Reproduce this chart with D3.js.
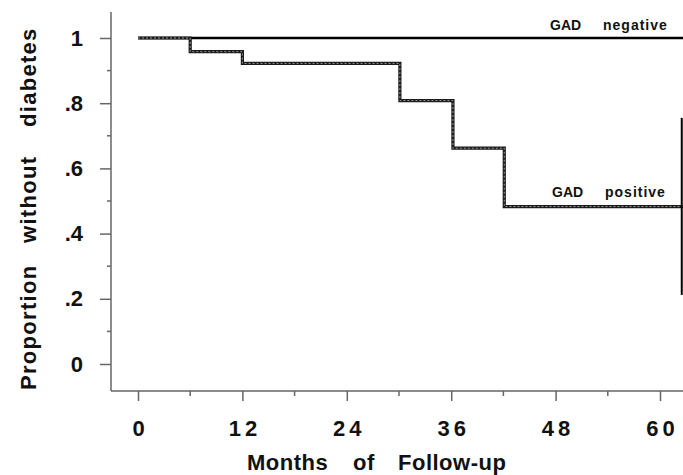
<!DOCTYPE html>
<html><head><meta charset="utf-8">
<script src="https://cdn.jsdelivr.net/npm/d3@7"></script>
<style>
body{margin:0;background:#fff;}
svg{display:block;font-family:"Liberation Sans",Arial,sans-serif;}
</style></head>
<body><svg id="c" width="683" height="475"></svg>
<script>
const xTicks = [0, 12, 24, 36, 48, 60];
const xMinor = [6, 18, 30, 42, 54];
const yTicks = [0, 0.2, 0.4, 0.6, 0.8, 1];
const yTickLabels = ["0", ".2", ".4", ".6", ".8", "1"];
const yMinor = [0.1, 0.3, 0.5, 0.7, 0.9];
const negMonths = [0, 62.9];
const negValues = [1, 1];
const posMonths = [0, 6, 12, 30.1, 36.2, 42.1, 62.9];
const posValues = [1, 0.958, 0.922, 0.808, 0.662, 0.483, 0.483];
const censorMonth = [62.5];
const censorRange = [0.212, 0.755];
const xTitleWords = ["Months", "of", "Follow-up"];
const yTitleWords = ["Proportion", "without", "diabetes"];

const svg = d3.select("#c");
const x = d3.scaleLinear().domain([0, 60]).range([138, 660]);
const y = d3.scaleLinear().domain([0, 1]).range([364, 38]);
const axisColor = "#666";
const ink = "#111";

const xAxisY = 391, yAxisX = 111;
svg.append("line").attr("x1", yAxisX).attr("x2", yAxisX).attr("y1", 12).attr("y2", xAxisY)
  .attr("stroke", axisColor).attr("stroke-width", 1.5);
svg.append("line").attr("x1", yAxisX).attr("x2", 683).attr("y1", xAxisY).attr("y2", xAxisY)
  .attr("stroke", axisColor).attr("stroke-width", 1.5);

// x axis ticks
const gx = svg.append("g").attr("transform", `translate(0,${xAxisY})`)
  .call(d3.axisBottom(x).tickValues(xTicks).tickSize(10).tickFormat(d3.format("d")));
gx.select(".domain").remove();
gx.selectAll(".tick line").attr("stroke", axisColor).attr("stroke-width", 1.5);
gx.selectAll(".tick text").attr("font-size", 22).attr("font-weight", "bold")
  .attr("fill", ink).attr("y", 29).attr("dx", "2px").style("letter-spacing", "4px");
svg.selectAll(".xm").data(xMinor).enter().append("line")
  .attr("x1", d => x(d)).attr("x2", d => x(d)).attr("y1", xAxisY).attr("y2", xAxisY + 5)
  .attr("stroke", axisColor).attr("stroke-width", 1.5);

// y axis ticks
const gy = svg.append("g").attr("transform", `translate(${yAxisX},0)`)
  .call(d3.axisLeft(y).tickValues(yTicks).tickSize(11).tickFormat((d, i) => yTickLabels[i]));
gy.select(".domain").remove();
gy.selectAll(".tick line").attr("stroke", axisColor).attr("stroke-width", 1.5);
gy.selectAll(".tick text").attr("font-size", 22).attr("font-weight", "bold")
  .attr("fill", ink).attr("x", -28);
svg.selectAll(".ym").data(yMinor).enter().append("line")
  .attr("x1", yAxisX - 4).attr("x2", yAxisX).attr("y1", d => y(d)).attr("y2", d => y(d))
  .attr("stroke", axisColor).attr("stroke-width", 1.5);

// lines
const stepLine = d3.line().x(d => x(d[0])).y(d => y(d[1])).curve(d3.curveStepAfter);
const negData = negMonths.map((m, i) => [m, negValues[i]]);
const posData = posMonths.map((m, i) => [m, posValues[i]]);
svg.append("path").attr("d", stepLine(negData)).attr("fill", "none")
  .attr("stroke", "#000").attr("stroke-width", 2.5);
svg.append("path").attr("d", stepLine(posData)).attr("fill", "none")
  .attr("stroke", "#1a1a1a").attr("stroke-width", 3.2);
svg.append("path").attr("d", stepLine(posData)).attr("fill", "none")
  .attr("stroke", "#9a9a9a").attr("stroke-width", 1).attr("stroke-dasharray", "2,2");

svg.append("line").attr("x1", x(censorMonth[0])).attr("x2", x(censorMonth[0]))
  .attr("y1", y(censorRange[0])).attr("y2", y(censorRange[1]))
  .attr("stroke", "#000").attr("stroke-width", 2);

// series labels
function lbl(t, px, py, ls) {
  svg.append("text").attr("x", px).attr("y", py).attr("font-size", 14).attr("font-weight", "bold")
    .attr("fill", ink).style("letter-spacing", ls + "px").text(t);
}
lbl("GAD", 550, 30, 0); lbl("negative", 603, 30, 1);
lbl("GAD", 552, 197, 0); lbl("positive", 605, 197, 1);

// axis titles
const xPos = [247, 353, 398];
xTitleWords.forEach((w, i) => {
  svg.append("text").attr("x", xPos[i]).attr("y", 470)
    .attr("font-size", 22).attr("font-weight", "bold").attr("fill", ink)
    .style("letter-spacing", "0.5px").text(w);
});
const yPos = [390, 243, 127];
yTitleWords.forEach((w, i) => {
  svg.append("text").attr("transform", `translate(36,${yPos[i]}) rotate(-90)`)
    .attr("font-size", 22).attr("font-weight", "bold").attr("fill", ink)
    .style("letter-spacing", "1.3px").text(w);
});
</script></body></html>
